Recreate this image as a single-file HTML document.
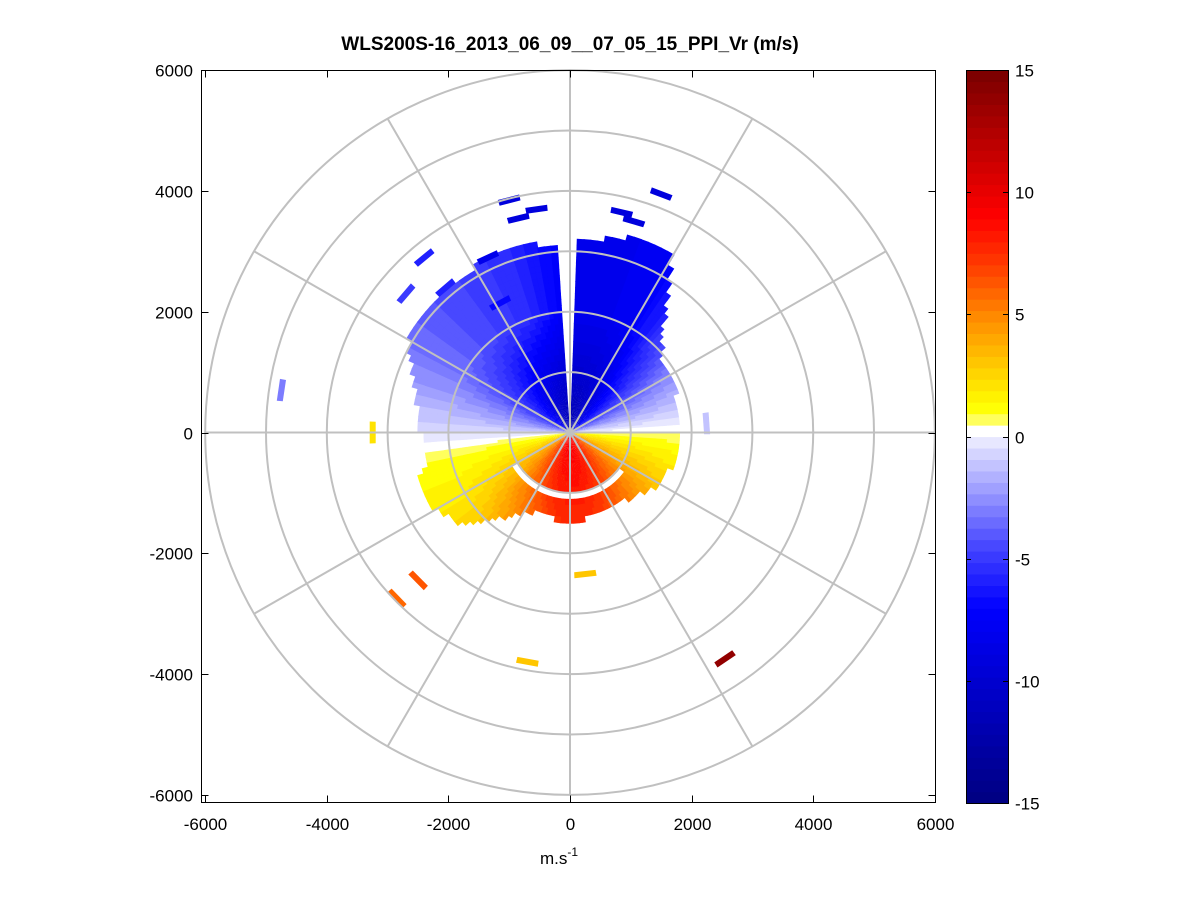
<!DOCTYPE html>
<html><head><meta charset="utf-8">
<style>
html,body{margin:0;padding:0;background:#fff;}
svg{display:block;font-family:"Liberation Sans",Arial,sans-serif;}
</style></head>
<body>
<svg id="chart" width="1201" height="901" viewBox="0 0 1201 901">
  <rect x="0" y="0" width="1201" height="901" fill="#fff"/>
  <text x="570" y="50" text-anchor="middle" font-size="19" font-weight="bold">WLS200S-16_2013_06_09__07_05_15_PPI_Vr (m/s)</text>
  <g id="cells"></g>
  <g id="scatter"></g>
  <g id="grid"></g>
  <g id="axes"></g>
  <g id="cbar"></g>
  <text x="540" y="864" font-size="17">m.s<tspan dy="-8" font-size="12">-1</tspan></text>
</svg>
<script>
// ---- data ----
const azimuths = [0,10,20,30,40,50,60,70,80,90,100,110,120,130,140,150,160,170,180,190,200,210,220,230,240,250,260,270,280,290,300,310,320,330,340,350];
const vrInner = [-12,-12,-11.5,-10.5,-9,-7.5,-5.5,-3.5,-1.5,0.5,2,3.5,5,6.5,7.5,8.5,9,9.5,9.5,9.5,9,8,7,5.5,4,2.5,1,-0.5,-2.5,-4,-6,-7.5,-9,-10.5,-11.5,-12];
const vrOuter = [-8,-8,-8,-7.5,-5.5,-4,-2.5,-1.5,-0.5,0.5,1.2,1.8,2.5,3.5,4.5,5.5,6.5,7,7,6.5,5.5,4.5,3.5,2.5,1.8,1.3,0.8,-0.5,-1.5,-2.5,-3.5,-4,-4.5,-5,-5.5,-6.5];
const maxRange = [3100,3200,3400,3300,2300,1900,1900,1800,1800,1800,1800,1700,1700,1500,1400,1400,1400,1400,1450,1400,1350,1500,1800,2300,2500,2600,2300,2400,2500,2700,3000,3100,3000,3100,3200,3100];
const gapAzStart = [356];
const gapAzEnd = [3];
const ringGapAzStart = 125, ringGapAzEnd = 240;
const ringGapR = [1000,1120];
const scatterX = [-2850,-2500,-700,250,2550,-4750,-3250,2250,1500,850,1050,-550,-1000,-850,-2400,-2050,-1350,-1150,-2700];
const scatterY = [-2750,-2450,-3800,-2350,-3750,700,0,150,3950,3650,3500,3700,3850,3550,2900,2400,2900,2150,2300];
const scatterV = [6,6.5,3,3,14,-3,2,-1,-9,-9,-9,-9,-9,-9,-6,-6,-8,-7,-5];
const cbTicks = [15,10,5,0,-5,-10,-15];
const xTicks = [-6000,-4000,-2000,0,2000,4000,6000];
const yTicks = [6000,4000,2000,0,-2000,-4000,-6000];

// ---- geometry ----
const cx=570, cy=432.5, sx=0.0608, sy=0.0604;
const X = m => cx + m*sx;
const Y = m => cy - m*sy;
const NS='http://www.w3.org/2000/svg';
function mk(tag, attrs, parent){const e=document.createElementNS(NS,tag);for(const k in attrs)e.setAttribute(k,attrs[k]);parent.appendChild(e);return e;}

// colormap (64 levels)
const stops=[[-15,0,0,128],[-7,0,0,255],[-4.5,70,70,255],[-0.5,220,220,255],[-0.01,240,240,255],[0,255,255,255],[0.5,255,255,255],[0.51,255,255,128],[1.2,255,255,0],[3,255,200,0],[5,255,135,0],[7,255,60,0],[9,255,0,0],[15,120,0,0]];
function color(v){
  v=Math.max(-15,Math.min(15,v));
  const lvl=Math.min(63,Math.floor((v+15)/30*64)); const q=-15+(lvl+0.5)*30/64;
  for(let i=0;i<stops.length-1;i++){const a=stops[i],b=stops[i+1];
    if(q>=a[0]&&q<=b[0]){const t=(q-a[0])/(b[0]-a[0]||1);
      return `rgb(${Math.round(a[1]+t*(b[1]-a[1]))},${Math.round(a[2]+t*(b[2]-a[2]))},${Math.round(a[3]+t*(b[3]-a[3]))})`;}}
  return '#800000';
}
function pt(az,r){const a=az*Math.PI/180;return [X(r*Math.sin(a)),Y(r*Math.cos(a))];}
function sector(a0,a1,r0,r1){
  const p1=pt(a0,r0),p2=pt(a0,r1),p3=pt(a1,r1),p4=pt(a1,r0);
  return `M${p1[0].toFixed(1)},${p1[1].toFixed(1)}L${p2[0].toFixed(1)},${p2[1].toFixed(1)}L${p3[0].toFixed(1)},${p3[1].toFixed(1)}L${p4[0].toFixed(1)},${p4[1].toFixed(1)}Z`;
}
function lookup(arr,az){const n=arr.length;const f=az/10;const i=Math.floor(f)%n, j=(i+1)%n, t=f-Math.floor(f);return arr[i]*(1-t)+arr[j]*t;}
function inGap(az){for(let k=0;k<gapAzStart.length;k++){const s=gapAzStart[k],e=gapAzEnd[k];if(s>e?(az>=s||az<e):(az>=s&&az<e))return true;}return false;}

// cells
const cellsG=document.getElementById('cells');
const dA=2, dR=100;
for(let az=0;az<360;az+=dA){
  const c=az+dA/2;
  if(inGap(c)) continue;
  const rmax=lookup(maxRange,c), vi=lookup(vrInner,c), vo=lookup(vrOuter,c);
  for(let r=0;r<rmax;r+=dR){
    if(c>ringGapAzStart&&c<ringGapAzEnd&&r+dR/2>ringGapR[0]&&r+dR/2<ringGapR[1]) continue;
    const t=Math.min(1,(r+dR/2)/2000);
    const v=vi*(1-t)+vo*t;
    const p=mk('path',{d:sector(az,az+dA+0.3,r,r+dR+10),fill:color(v)},cellsG);
    
    
  }
}
// scattered cells
const scG=document.getElementById('scatter');
for(let i=0;i<scatterX.length;i++){
  const r=Math.hypot(scatterX[i],scatterY[i]); let az=Math.atan2(scatterX[i],scatterY[i])*180/Math.PI;
  const da=180*180/(Math.PI*r);
  const p=mk('path',{d:sector(az-da,az+da,r-50,r+50),fill:color(scatterV[i])},scG);
  
  
}
// grid
const gG=document.getElementById('grid');
for(let r=1000;r<=6000;r+=1000){
  const e=mk('ellipse',{cx:cx,cy:cy,rx:r*sx,ry:r*sy,fill:'none',stroke:'#c0c0c0','stroke-width':2},gG);
  
  
}
for(let a=0;a<360;a+=30){
  const p=pt(a,6000);
  const l=mk('line',{x1:cx,y1:cy,x2:p[0],y2:p[1],stroke:'#c0c0c0','stroke-width':2},gG);
  
  
}
// axes
const aG=document.getElementById('axes');
const bx0=201.5,bx1=935.5,by0=70.5,by1=802.5;
const box=mk('rect',{x:bx0,y:by0,width:bx1-bx0,height:by1-by0,fill:'none',stroke:'#000','stroke-width':1},aG);


xTicks.forEach(v=>{const x=Math.round(X(v))+0.5;
  mk('line',{x1:x,y1:by1,x2:x,y2:by1-7,stroke:'#000'},aG);mk('line',{x1:x,y1:by0,x2:x,y2:by0+7,stroke:'#000'},aG);
  const t=mk('text',{x:x,y:830,'text-anchor':'middle','font-size':17},aG);t.textContent=v;
  
  });
yTicks.forEach(v=>{const y=Math.round(Y(v))+0.5;
  mk('line',{x1:bx0,y1:y,x2:bx0+7,y2:y,stroke:'#000'},aG);mk('line',{x1:bx1,y1:y,x2:bx1-7,y2:y,stroke:'#000'},aG);
  const t=mk('text',{x:193,y:y+6,'text-anchor':'end','font-size':17},aG);t.textContent=v;
  
  });
// colorbar
const cG=document.getElementById('cbar');
const cbx=966, cbw=42, cby0=70, cby1=803;
const CY=v=>cby0+(15-v)/30*(cby1-cby0);
for(let l=0;l<64;l++){const v0=-15+l*30/64, v1=v0+30/64;
  const r=mk('rect',{x:cbx,y:CY(v1),width:cbw,height:CY(v0)-CY(v1)+0.6,fill:color(v0+0.01)},cG);
  
  }
mk('rect',{x:cbx+0.5,y:cby0+0.5,width:cbw,height:cby1-cby0,fill:'none',stroke:'#000'},cG);
cbTicks.forEach(v=>{const y=Math.round(CY(v))+0.5;
  mk('line',{x1:cbx,y1:y,x2:cbx+5,y2:y,stroke:'#000'},cG);mk('line',{x1:cbx+cbw,y1:y,x2:cbx+cbw-5,y2:y,stroke:'#000'},cG);
  const t=mk('text',{x:1015,y:y+6,'font-size':17},cG);t.textContent=v;
  
  });
</script>
</body></html>
